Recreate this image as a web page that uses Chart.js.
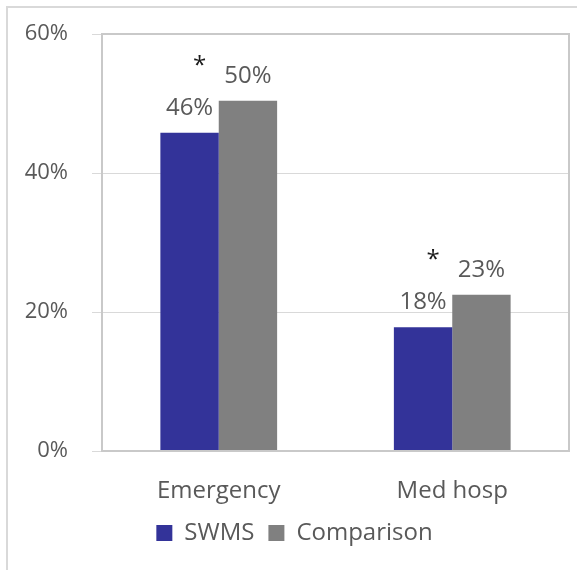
<!DOCTYPE html>
<html>
<head>
<meta charset="utf-8">
<script src="https://cdn.jsdelivr.net/npm/chart.js@4.4.1/dist/chart.umd.min.js"></script>
<style>
    html, body { margin: 0; padding: 0; background: #fff; }
    #wrap { position: relative; width: 577px; height: 570px; }
    #frame { position: absolute; left: 6px; top: 6px; width: 600px; height: 600px;
             border-left: 2px solid #d9d9d9; border-top: 2px solid #d9d9d9; box-sizing: border-box; }
    canvas { position: absolute; left: 0; top: 0; }
</style>
</head>
<body>
<div id="wrap">
    <div id="frame"></div>
    <canvas id="barChart" width="577" height="570"></canvas>
</div>
<script>
// data
const categories = ['Emergency', 'Med hosp'];
const swmsValues = [45.8, 17.8];
const comparisonValues = [50.4, 22.5];
const yTicks = [0, 20, 40, 60];
const significant = [true, true]; // asterisk over SWMS

const FONT = "'Open Sans', 'Noto Sans', sans-serif";
const TEXT = '#595959';

// box around plot area
const plotBorder = {
    id: 'plotBorder',
    afterDraw(chart) {
        const { ctx, chartArea } = chart;
        ctx.save();
        ctx.strokeStyle = '#c9c9c9';
        ctx.lineWidth = 2;
        ctx.strokeRect(chartArea.left, chartArea.top, chartArea.right - chartArea.left, chartArea.bottom - chartArea.top);
        ctx.restore();
    }
};

// percent labels + asterisks
const barLabels = {
    id: 'barLabels',
    afterDatasetsDraw(chart) {
        const ctx = chart.ctx;
        ctx.save();
        ctx.font = '24px ' + FONT;
        ctx.textAlign = 'center';
        ctx.textBaseline = 'alphabetic';
        chart.data.datasets.forEach((ds, di) => {
            chart.getDatasetMeta(di).data.forEach((bar, i) => {
                ctx.fillStyle = TEXT;
                ctx.fillText(Math.round(ds.data[i]) + '%', bar.x, bar.y - 18);
                if (di === 0 && significant[i]) {
                    ctx.fillStyle = '#1a1a1a';
                    ctx.fillText('*', bar.x + 10, bar.y - 60);
                }
            });
        });
        ctx.restore();
    }
};

new Chart(document.getElementById('barChart').getContext('2d'), {
    type: 'bar',
    data: {
        labels: categories,
        datasets: [
            { label: 'SWMS', data: swmsValues, backgroundColor: '#333399' },
            { label: 'Comparison', data: comparisonValues, backgroundColor: '#808080' }
        ]
    },
    options: {
        responsive: false,
        animation: false,
        layout: { padding: { left: 20, right: 8, top: 34, bottom: 15 } },
        datasets: { bar: { barPercentage: 1, categoryPercentage: 0.5 } },
        scales: {
            x: {
                grid: { display: false, drawTicks: false },
                border: { display: false },
                ticks: { color: TEXT, font: { family: FONT, size: 24 }, padding: 26 },
                afterFit(scale) { scale.height = 56; }
            },
            y: {
                min: 0,
                max: 60,
                afterBuildTicks(scale) { scale.ticks = yTicks.map(v => ({ value: v })); },
                grid: { color: '#d9d9d9', lineWidth: 1, tickLength: 10 },
                border: { display: false },
                ticks: { color: TEXT, font: { family: FONT, size: 22 }, padding: 24, callback: v => v + '%' },
                afterFit(scale) {
                    scale.width = 82;
                    scale.paddingTop = 0;
                    scale.paddingBottom = 0;
                }
            }
        },
        plugins: {
            legend: {
                position: 'bottom',
                labels: {
                    color: TEXT,
                    font: { family: FONT, size: 24 },
                    boxWidth: 16,
                    boxHeight: 16,
                    padding: 14
                }
            },
            tooltip: { enabled: false }
        }
    },
    plugins: [plotBorder, barLabels]
});
</script>
</body>
</html>
